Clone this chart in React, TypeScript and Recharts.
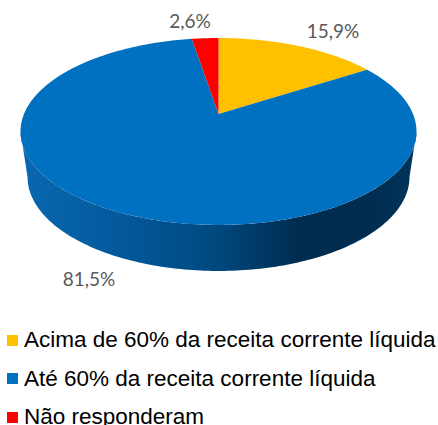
import { Legend, Pie, PieChart } from "recharts";

const categories = [
  "Acima de 60% da receita corrente líquida",
  "Até 60% da receita corrente líquida",
  "Não responderam",
];
const shares = [15.9, 81.5, 2.6];
const colors = ["#ffc000", "#0070c0", "#ff0000"];
const labelSpots = [
  { x: 333, y: 38 },
  { x: 89, y: 286 },
  { x: 190, y: 28 },
];

const rows = categories.map((name, i) => ({ name, value: shares[i], fill: colors[i] }));

// the reference is a tilted pie, so angles go through a perspective map
const APEX_X = 218.5;
const APEX_Y = 114;
const TILT = 0.187;
const RX = 194.5;
const RY = 90.2;
const ELLIPSE_Y = 131.5;
const FLOOR_Y = 177;

function top(angle: number) {
  const a = (angle * Math.PI) / 180;
  const u = Math.cos(a);
  const v = Math.sin(a);
  const w = 1 + TILT * v;
  return { x: APEX_X + (RX * u) / w, y: APEX_Y - (RY * v) / w };
}

function floor(angle: number) {
  const p = top(angle);
  return { x: APEX_X + (p.x - APEX_X) * (191 / 198), y: FLOOR_Y + (p.y - ELLIPSE_Y) * (94 / 93.5) };
}

function arc(from: number, to: number, at: typeof top) {
  const steps = Math.max(2, Math.ceil(Math.abs(to - from)));
  const out: string[] = [];
  for (let i = 0; i <= steps; i++) {
    const p = at(from + ((to - from) * i) / steps);
    out.push(`${p.x.toFixed(2)} ${p.y.toFixed(2)}`);
  }
  return out;
}

function TopSlice(props: any) {
  const pts = arc(props.startAngle, props.endAngle, top);
  return <path d={`M${APEX_X} ${APEX_Y}L${pts.join("L")}Z`} fill={props.fill} stroke="none" />;
}

function WallSlice(props: any) {
  // visible front of the rim, between the widest points of the ellipse
  const tangent = (Math.asin(TILT) * 180) / Math.PI;
  const frontStart = -tangent;
  const frontEnd = -180 + tangent;
  const hi = Math.min(props.startAngle, frontStart);
  const lo = Math.max(props.endAngle, frontEnd);
  if (hi <= lo) return null;
  const upper = arc(hi, lo, top);
  const lower = arc(lo, hi, floor);
  return <path d={`M${upper.join("L")}L${lower.join("L")}Z`} fill="url(#wallShade)" stroke="none" />;
}

function shareLabel(props: any) {
  const spot = labelSpots[props.index];
  return (
    <text x={spot.x} y={spot.y} textAnchor="middle" fontFamily="Lato" fontSize={19} fill="#595959">
      {shares[props.index].toFixed(1).replace(".", ",")}%
    </text>
  );
}

function LegendRows({ payload }: any) {
  // the wall pie also reports entries, keep one row per category
  const seen = categories.map((name) => (payload ?? []).find((p: any) => p.value === name));
  return (
    <div>
      {seen.filter(Boolean).map((item: any) => (
        <div key={item.value} style={{ height: 38.5, display: "flex", alignItems: "center", whiteSpace: "nowrap" }}>
          <span style={{ width: 11, height: 11, background: item.color, marginRight: 6, flex: "none" }} />
          <span>{item.value}</span>
        </div>
      ))}
    </div>
  );
}

export default function App() {
  return (
    <div style={{ position: "absolute", left: 0, top: 0, width: 438, height: 425, overflow: "hidden" }}>
      <PieChart width={438} height={425} margin={{ top: 0, right: 0, bottom: 0, left: 0 }}>
        <defs>
          <linearGradient id="wallShade" x1="0" y1="0" x2="1" y2="0">
            <stop offset="0" stopColor="#0a68b0" />
            <stop offset="0.25" stopColor="#03599c" />
            <stop offset="0.5" stopColor="#00487e" />
            <stop offset="0.7" stopColor="#002c50" />
            <stop offset="0.88" stopColor="#002c50" />
            <stop offset="1" stopColor="#00345a" />
          </linearGradient>
        </defs>
        <Pie
          data={rows}
          dataKey="value"
          nameKey="name"
          cx={APEX_X}
          cy={APEX_Y}
          outerRadius={RX}
          startAngle={90}
          endAngle={-270}
          legendType="none"
          shape={WallSlice}
          isAnimationActive={false}
        />
        <Pie
          data={rows}
          dataKey="value"
          nameKey="name"
          cx={APEX_X}
          cy={APEX_Y}
          outerRadius={RX}
          startAngle={90}
          endAngle={-270}
          legendType="square"
          shape={TopSlice}
          label={shareLabel}
          labelLine={false}
          isAnimationActive={false}
        />
        <Legend
          layout="vertical"
          align="left"
          verticalAlign="top"
          content={LegendRows}
          wrapperStyle={{
            left: 7,
            top: 321,
            width: 431,
            fontFamily: "Liberation Sans",
            fontSize: 22.5,
            color: "#000",
          }}
        />
      </PieChart>
    </div>
  );
}
